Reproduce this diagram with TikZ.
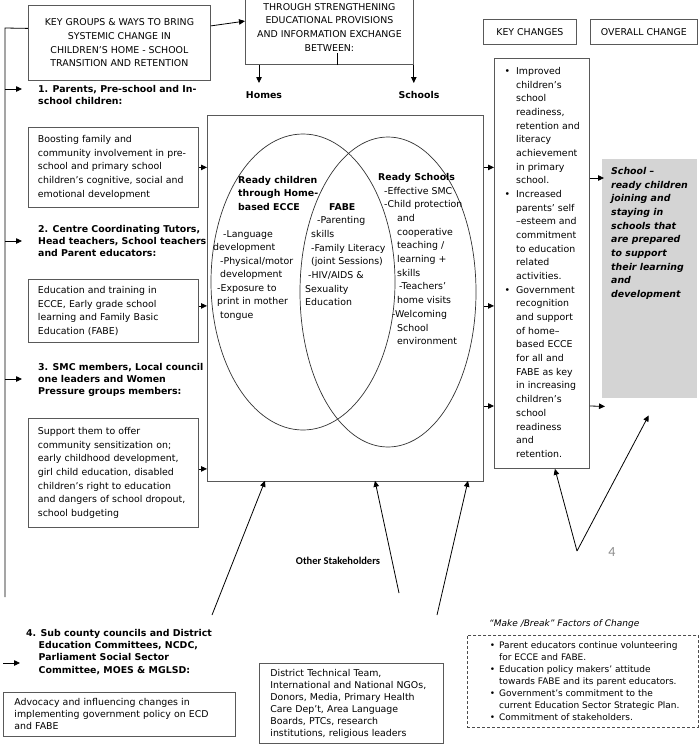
\documentclass[tikz,border=0pt]{standalone}
\usepackage{fontspec}
\setmainfont{DejaVu Sans}
\newfontfamily\calibrifont{Carlito}
\usetikzlibrary{arrows.meta, positioning, shapes.geometric, calc}

\newcommand{\bodyfont}{\fontsize{9.4}{13.7}\selectfont}
\newcommand{\tightfont}{\fontsize{9.4}{12}\selectfont}
\newcommand{\groupfont}{\fontsize{9.4}{12.3}\selectfont\bfseries}
\newcommand{\keybullet}{\llap{\textbullet\hspace{6pt}}}
\newcommand{\mbbullet}{\llap{\textbullet\hspace{4pt}}}

\tikzset{
  box/.style={draw=black!65, line width=0.8pt, inner xsep=10pt, inner ysep=0pt,
    align=left, font=\bodyfont, anchor=north west},
  capsbox/.style={box, align=center},
  group/.style={inner sep=0pt, align=left, font=\groupfont, anchor=north west},
  plain/.style={inner sep=0pt, align=left, font=\bodyfont, anchor=north west},
  set/.style={ellipse, draw=black!80, line width=0.7pt, inner sep=0pt},
  arr/.style={-{Triangle[length=6pt,width=5.5pt]}, line width=0.8pt},
  link/.style={line width=0.8pt},
}

\begin{document}
\begin{tikzpicture}[x=1pt,y=-1pt]
\useasboundingbox (0,0) rectangle (700,747);

% headings across the top
\node[capsbox, minimum width=182, minimum height=75] (keygroups) at (28,5)
  {KEY GROUPS \& WAYS TO BRING\\SYSTEMIC CHANGE IN\\CHILDREN’S HOME - SCHOOL\\TRANSITION AND RETENTION};
\node[capsbox, anchor=south west, minimum width=168, minimum height=75] (exchange) at (245,65)
  {THROUGH STRENGTHENING\\EDUCATIONAL PROVISIONS\\AND INFORMATION EXCHANGE\\BETWEEN:};
\node[capsbox, minimum width=93, minimum height=25] (keychanges) at (483,19) {KEY CHANGES};
\node[capsbox, minimum width=107, minimum height=25] (overall) at (590,19) {OVERALL CHANGE};
\node[group, anchor=center] (homes) at (264,95) {Homes};
\node[group, anchor=center] (schools) at (419,95) {Schools};

\draw[arr] ([yshift=17]keygroups.east) -- ([yshift=6]exchange.west);
\draw[link] ([xshift=8]exchange.south) -- ++(0,-12);
\draw[arr] ([xshift=14]exchange.south west) -- ++(0,18);
\draw[arr] (exchange.south east) -- ++(0,18);

% key groups down the left
\coordinate (trunktop) at (5,28);
\coordinate (trunkend) at (5,597);
\draw[link] ([yshift=14.5]keygroups.west) -- (trunktop) -- (trunkend);

\node[group] (grp1) at (38,85) {1. Parents, Pre-school and In-\\school children:};
\node[box, text width=151, inner xsep=9.5pt, minimum height=80] (boost) at (28,127)
  {Boosting family and\\community involvement in pre-\\school and primary school\\children’s cognitive, social and\\emotional development};
\node[group] (grp2) at (38,225) {2. Centre Coordinating Tutors,\\Head teachers, School teachers\\and Parent educators:};
\node[box, text width=151, inner xsep=9.5pt, minimum height=63] (training) at (28,279)
  {Education and training in\\ECCE, Early grade school\\learning and Family Basic\\Education (FABE)};
\node[group] (grp3) at (38,363) {3. SMC members, Local council\\one leaders and Women\\Pressure groups members:};
\node[box, text width=151, inner xsep=9.5pt, minimum height=109] (sensitize) at (28,418)
  {Support them to offer\\community sensitization on;\\early childhood development,\\girl child education, disabled\\children’s right to education\\and dangers of school dropout,\\school budgeting};

\draw[arr] ($(trunkend |- grp1.north)+(0,4)$) -- +(17,0);
\draw[arr] ($(trunkend |- grp2.north)+(0,16)$) -- +(17,0);
\draw[arr] ($(trunkend |- grp3.north)+(0,16)$) -- +(17,0);

% the two sets
\node[draw=black!65, line width=0.8pt, minimum width=276, minimum height=366,
  anchor=north west, inner sep=0pt] (venn) at (207,115) {};
\node[set, minimum width=184, minimum height=296] (homeset) at (303,282) {};
\node[set, minimum width=176, minimum height=310] (schoolset) at (388,292) {};

\node[plain, font=\fontsize{9.4}{13.5}\selectfont] (readychild) at (213,176)
  {\hspace*{25pt}\textbf{Ready children}\\
   \hspace*{25pt}\textbf{through Home-}\\
   \hspace*{25pt}\textbf{based ECCE}\\[13.5pt]
   \hspace*{10pt}-Language\\
   development\\
   \hspace*{7pt}-Physical/motor\\
   \hspace*{7pt}development\\
   \hspace*{4pt}-Exposure to\\
   \hspace*{4pt}print in mother\\
   \hspace*{7pt}tongue};
\node[plain] (fabe) at (305,203)
  {\hspace*{24pt}\textbf{FABE}\\
   \hspace*{12pt}-Parenting\\
   \hspace*{6pt}skills\\
   \hspace*{6pt}-Family Literacy\\
   \hspace*{6pt}(joint Sessions)\\
   \hspace*{3pt}-HIV/AIDS \&\\
   Sexuality\\
   Education};
\node[plain] (readyschool) at (378,173)
  {\textbf{Ready Schools}\\
   \hspace*{6pt}-Effective SMC\\
   \hspace*{6pt}-Child protection\\
   \hspace*{19pt}and\\
   \hspace*{19pt}cooperative\\
   \hspace*{19pt}teaching /\\
   \hspace*{19pt}learning +\\
   \hspace*{19pt}skills\\
   \hspace*{21pt}-Teachers’\\
   \hspace*{19pt}home visits\\
   \hspace*{14pt}-Welcoming\\
   \hspace*{19pt}School\\
   \hspace*{19pt}environment};

\draw[arr] (boost.east) -- (boost.east -| venn.west);
\draw[arr] ($(training.east)+(0,-5)$) -- ($(training.east -| venn.west)+(0,-5)$);
\draw[arr] ($(sensitize.east)+(0,-4)$) -- ($(sensitize.east -| venn.west)+(0,-4)$);

% key changes and overall change
\node[box, minimum width=95, minimum height=410] (keybox) at (494,58) {};
\node[plain, font=\fontsize{9.4}{13.68}\selectfont] (keytext) at (516,67)
  {\keybullet Improved\\children’s\\school\\readiness,\\retention and\\literacy\\achievement\\in primary\\school.\\
   \keybullet Increased\\parents’ self\\–esteem and\\commitment\\to education\\related\\activities.\\
   \keybullet Government\\recognition\\and support\\of home–\\based ECCE\\for all and\\FABE as key\\in increasing\\children’s\\school\\readiness\\and\\retention.};
\node[fill=black!17, minimum width=95, minimum height=239, anchor=north west, inner sep=0pt] (overallbox) at (602,159) {};
\node[plain, font=\bodyfont\bfseries\itshape] (overalltext) at (611,167)
  {School –\\ready children\\joining and\\staying in\\schools that\\are prepared\\to support\\their learning\\and\\development};

\draw[arr] (venn.east |- boost.east) -- (keybox.west |- boost.east);
\draw[arr] ($(venn.east |- training.east)+(0,-5)$) -- ($(keybox.west |- training.east)+(0,-5)$);
\draw[arr] ($(venn.north east)+(0,291)$) -- ($(keybox.north west)+(0,348)$);
\draw[arr] ($(keybox.north east)+(0,120)$) -- ($(overallbox.north west)+(2,19)$);
\draw[arr] ($(keybox.north east)+(0,348)$) -- ($(overallbox.south west)+(3,8)$);

\coordinate (vtip) at (577,551);
\node[font=\calibrifont\fontsize{14}{14}\selectfont, text=black!45, inner sep=0pt] (pagenum) at (612,552) {4};
\draw[arr] (vtip) -- ($(keybox.south)+(13,0)$);
\draw[arr] (vtip) -- ($(overallbox.south)+(-1,17)$);

% other stakeholders
\node[font=\calibrifont\bfseries\fontsize{10.5}{12}\selectfont, inner sep=0pt] (stakeholders) at (338,561) {Other Stakeholders};
\coordinate (sh1) at (212,615);
\coordinate (sh2) at (399,593);
\coordinate (sh3) at (437,615);
\draw[arr] (sh1) -- ($(venn.south west)+(58,-1)$);
\draw[arr] (sh2) -- ($(venn.south west)+(168,-1)$);
\draw[arr] (sh3) -- ($(venn.south west)+(261,-1)$);

% bottom row
\node[group] (grp4) at (26,629) {4. Sub county councils and District\\
  \hspace*{12.5pt}Education Committees, NCDC,\\
  \hspace*{12.5pt}Parliament Social Sector\\
  \hspace*{12.5pt}Committee, MOES \& MGLSD:};
\draw[arr] ($(grp4.north west)+(-23,34)$) -- +(17,0);
\node[box, font=\tightfont, text width=210, inner xsep=11pt, minimum height=44] (advocacy) at (3,692)
  {Advocacy and influencing changes in\\implementing government policy on ECD\\and FABE};
\node[box, font=\tightfont, text width=162, inner xsep=11pt, minimum height=80] (partners) at (259,663)
  {District Technical Team,\\International and National NGOs,\\Donors, Media, Primary Health\\Care Dep’t, Area Language\\Boards, PTCs, research\\institutions, religious leaders};

\node[plain, font=\fontsize{9}{12}\selectfont\itshape] (mbtitle) at (489,619) {“Make /Break” Factors of Change};
\node[draw=black!70, line width=0.8pt, dash pattern=on 3pt off 2pt, minimum width=231, minimum height=92,
  anchor=north west, inner sep=0pt] (mbbox) at (467,635) {};
\node[plain, font=\fontsize{9}{12}\selectfont] (mbtext) at (499,641)
  {\mbbullet Parent educators continue volunteering\\for ECCE and FABE.\\
   \mbbullet Education policy makers’ attitude\\towards FABE and its parent educators.\\
   \mbbullet Government’s commitment to the\\current Education Sector Strategic Plan.\\
   \mbbullet Commitment of stakeholders.};
\end{tikzpicture}
\end{document}
